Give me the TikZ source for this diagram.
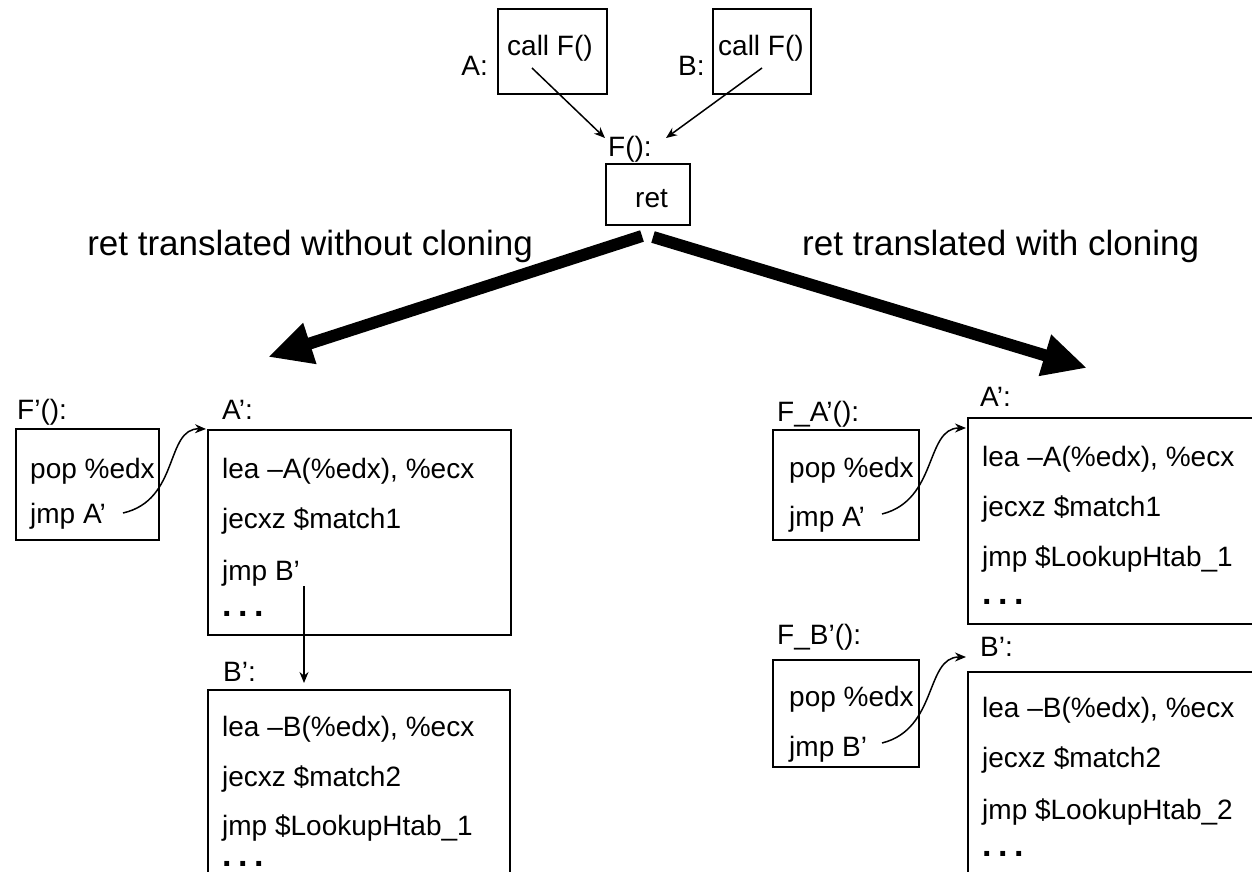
\documentclass[tikz,border=0pt]{standalone}
\usepackage{fontspec}
\setmainfont{Liberation Sans}
\usetikzlibrary{arrows.meta}

% three heavy dots closing a code listing
\newcommand\codedots{{\fontsize{34}{34}\selectfont\bfseries .\hspace{6.5pt}.\hspace{6.5pt}.}}

\begin{document}
\begin{tikzpicture}[x=1pt,y=-1pt,
  box/.style={draw=black, line width=2pt, inner sep=0pt, anchor=north west},
  code/.style={inner sep=0pt, anchor=base west, font=\fontsize{28}{34}\selectfont},
  title/.style={inner sep=0pt, font=\fontsize{35}{42}\selectfont},
  thinarrow/.style={line width=1.5pt, -{Stealth[length=11pt,width=9pt]}},
  bigarrow/.style={line width=12pt, -{Triangle[length=44pt,width=40pt]}}]

\useasboundingbox (0,0) rectangle (1252,872);

% ---------- original code: two call sites and F() ----------
\node[box, minimum width=109pt, minimum height=85pt] (boxA) at (497,8) {};
\node[box, minimum width=98pt, minimum height=85pt] (boxB) at (712,8) {};
\node[code] (callA) at (507,56) {call F()};
\node[code] (callB) at (718,56) {call F()};
\node[code, anchor=base east] (labA) at (488,76) {A:};
\node[code] (labB) at (678,76) {B:};
\node[code] (labF) at (608,156) {F():};
\node[box, minimum width=84pt, minimum height=61pt] (retbox) at (605,163) {};
\node[code] (ret) at (635,207) {ret};

\coordinate (fromA) at (532,68);
\coordinate (fromB) at (762,68);
\coordinate (toFa) at (605,138);
\coordinate (toFb) at (666,138);
\draw[thinarrow] (fromA) -- (toFa);
\draw[thinarrow] (fromB) -- (toFb);

% ---------- the two translation strategies ----------
\node[title, anchor=base east] (tleft) at (533,255) {ret translated without cloning};
\node[title, anchor=base west] (tright) at (802,255) {ret translated with cloning};

\coordinate (bigL0) at (642,236);
\coordinate (bigL1) at (268,357);
\coordinate (bigR0) at (653,237);
\coordinate (bigR1) at (1087,368);
\draw[bigarrow] (bigL0) -- (bigL1);
\draw[bigarrow] (bigR0) -- (bigR1);

% ---------- without cloning ----------
\node[code] (lFp) at (17,419) {F’():};
\node[box, minimum width=143pt, minimum height=111pt] (Fpbox) at (15,428) {};
\node[code] (lFp1) at (30,478) {pop \%edx};
\node[code] (lFp2) at (30,523) {jmp A’};

\node[code] (lAp) at (222,419) {A’:};
\node[box, minimum width=303pt, minimum height=205pt] (Apbox) at (207,429) {};
\node[code] (lAp1) at (222,478) {lea –A(\%edx), \%ecx};
\node[code] (lAp2) at (222,528) {jecxz \$match1};
\node[code] (lAp3) at (222,580) {jmp B’};
\node[code] (lAp4) at (222,616) {\codedots};

\node[code] (lBp) at (223,681) {B’:};
\node[box, minimum width=302pt, minimum height=200pt] (Bpbox) at (207,689) {};
\node[code] (lBp1) at (222,736) {lea –B(\%edx), \%ecx};
\node[code] (lBp2) at (222,786) {jecxz \$match2};
\node[code] (lBp3) at (222,835) {jmp \$LookupHtab\_1};
\node[code] (lBp4) at (222,866) {\codedots};

\coordinate (jL) at (123,513);
\coordinate (jLt) at (206,429);
\draw[thinarrow] (jL) .. controls (180,500) and (165,428) .. (jLt);
\coordinate (jB0) at (304,586);
\coordinate (jB1) at (304,683);
\draw[thinarrow] (jB0) -- (jB1);

% ---------- with cloning ----------
\node[code] (rFA) at (777,421) {F\_A’():};
\node[box, minimum width=146pt, minimum height=110pt] (FAbox) at (772,429) {};
\node[code] (rFA1) at (789,477) {pop \%edx};
\node[code] (rFA2) at (789,526) {jmp A’};

\node[code] (rAp) at (980,406) {A’:};
\node[box, minimum width=310pt, minimum height=206pt] (rApbox) at (967,417) {};
\node[code] (rAp1) at (982,466) {lea –A(\%edx), \%ecx};
\node[code] (rAp2) at (982,516) {jecxz \$match1};
\node[code] (rAp3) at (982,566) {jmp \$LookupHtab\_1};
\node[code] (rAp4) at (982,604) {\codedots};

\node[code] (rFB) at (777,644) {F\_B’():};
\node[box, minimum width=146pt, minimum height=107pt] (FBbox) at (772,659) {};
\node[code] (rFB1) at (789,706) {pop \%edx};
\node[code] (rFB2) at (789,756) {jmp B’};

\node[code] (rBp) at (980,656) {B’:};
\node[box, minimum width=310pt, minimum height=215pt] (rBpbox) at (967,671) {};
\node[code] (rBp1) at (982,717) {lea –B(\%edx), \%ecx};
\node[code] (rBp2) at (982,767) {jecxz \$match2};
\node[code] (rBp3) at (982,819) {jmp \$LookupHtab\_2};
\node[code] (rBp4) at (982,856) {\codedots};

\coordinate (jRA) at (882,514);
\coordinate (jRAt) at (966,428);
\draw[thinarrow] (jRA) .. controls (938,500) and (925,428) .. (jRAt);
\coordinate (jRB) at (882,743);
\coordinate (jRBt) at (966,657);
\draw[thinarrow] (jRB) .. controls (938,729) and (925,657) .. (jRBt);

\end{tikzpicture}
\end{document}
